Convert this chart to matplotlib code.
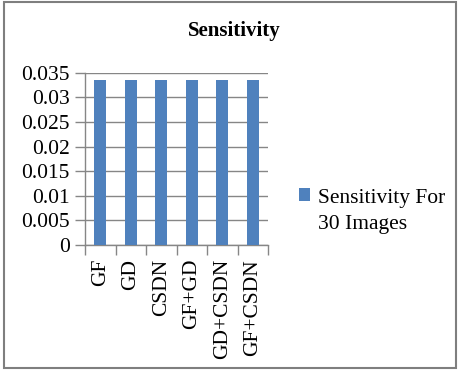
import matplotlib.pyplot as plt
import numpy as np
from matplotlib.patches import Rectangle

# Sensitivity values per method
methods = ["GF", "GD", "CSDN", "GF+GD", "GD+CSDN", "GF+CSDN"]
sensitivity = [0.0336, 0.0336, 0.0336, 0.0336, 0.0336, 0.0336]
series_name = ["Sensitivity For", "30 Images"]

plt.rcParams['font.family'] = ['Liberation Serif', 'DejaVu Serif']
grid_col = '#868686'
bar_col = '#4F81BD'

fig = plt.figure(figsize=(4.59, 3.70), dpi=100)
ax = fig.add_axes([85 / 459, 1 - 245 / 370, 183 / 459, 172.3 / 370])

x = np.arange(len(methods))
ax.bar(x, sensitivity, width=0.4, color=bar_col, label=series_name[0], zorder=3)

ax.set_xlim(-0.5, len(methods) - 0.5)
ax.set_ylim(0, 0.035)
ax.set_yticks(np.arange(0, 0.0351, 0.005))
ax.set_yticklabels(["0", "0.005", "0.01", "0.015", "0.02", "0.025", "0.03", "0.035"])
ax.yaxis.grid(True, color=grid_col, linewidth=1, zorder=0)

# category labels, with tick marks between categories
ax.set_xticks(x)
ax.set_xticklabels(methods, rotation=90)
ax.set_xticks(np.arange(-0.5, len(methods)), minor=True)
ax.tick_params(axis='x', which='major', length=0, pad=10, labelsize=15.5)
ax.tick_params(axis='x', which='minor', length=7, color=grid_col, width=1)
ax.tick_params(axis='y', length=7, color=grid_col, width=1, labelsize=15.5, pad=4)

for side in ['top', 'right']:
    ax.spines[side].set_visible(False)
for side in ['left', 'bottom']:
    ax.spines[side].set_color(grid_col)
    ax.spines[side].set_linewidth(1)

fig.text(234 / 459, 1 - 31 / 370, "Sensitivity", ha='center', va='center',
         fontsize=15, fontweight='bold')

# legend: marker sits beside the first line, second line wraps below
fig.legend(loc='center left', bbox_to_anchor=(290 / 459, 1 - 198 / 370),
           frameon=False, fontsize=15.5, handlelength=0.55, handleheight=0.55,
           handletextpad=0.35, borderaxespad=0)
fig.text(318 / 459, 1 - 225 / 370, series_name[1], ha='left', va='center',
         fontsize=15.5)

# outer chart frame
fig.patches.append(Rectangle((4 / 459, 2 / 370), 452 / 459, 366 / 370,
                             transform=fig.transFigure, fill=False,
                             edgecolor='#7f7f7f', linewidth=1.5))

fig.savefig("out.png", dpi=100)
